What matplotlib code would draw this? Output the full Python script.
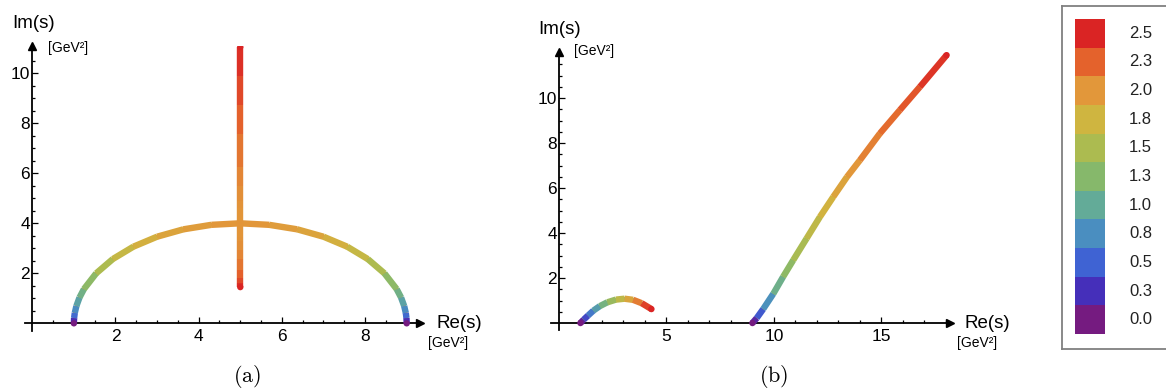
import matplotlib
matplotlib.use("Agg")
import matplotlib.pyplot as plt
from matplotlib.collections import LineCollection
from matplotlib.colors import LinearSegmentedColormap, Normalize

plt.rcParams['font.family'] = ['Liberation Sans', 'DejaVu Sans']
plt.rcParams['mathtext.fontset'] = 'cm'

# legend / colour scale (value -> colour)
legend_labels = ['0.0', '0.3', '0.5', '0.8', '1.0', '1.3', '1.5', '1.8', '2.0', '2.3', '2.5']
legend_colors = ['#751B80', '#452FBA', '#3F63D3', '#4A8EC0', '#63AB98', '#86B86B',
                 '#ACBB50', '#CFB540', '#E2973A', '#E4622C', '#DA2424']
p_min, p_max = 0.0, 2.5

# panel (a): arc from s=1 to s=9
arc_x = [1.000, 1.005, 1.022, 1.061, 1.136, 1.241, 1.536, 1.936, 2.429, 3.000, 3.632, 4.305, 5.000,
         5.695, 6.368, 7.000, 7.571, 8.064, 8.464, 8.759, 8.864, 8.939, 8.978, 8.995, 9.000]
arc_y = [0.000, 0.209, 0.418, 0.695, 1.035, 1.368, 2.000, 2.571, 3.064, 3.464, 3.759, 3.939, 4.000,
         3.939, 3.759, 3.464, 3.064, 2.571, 2.000, 1.368, 1.035, 0.695, 0.418, 0.209, 0.000]
arc_p = [0.000, 0.458, 0.647, 0.833, 1.018, 1.170, 1.414, 1.604, 1.750, 1.861, 1.939, 1.985, 2.000,
         1.985, 1.939, 1.861, 1.750, 1.604, 1.414, 1.170, 1.018, 0.833, 0.647, 0.458, 0.000]

# panel (a): vertical branch at Re(s)=5
vert_x = [5.0] * 17
vert_y = [1.448, 1.615, 1.828, 2.115, 2.553, 2.914, 3.274, 3.472, 4.000,
          4.608, 4.886, 5.491, 6.267, 7.565, 8.752, 9.905, 11.052]
vert_p = [2.50, 2.40, 2.30, 2.20, 2.10, 2.05, 2.02, 2.01, 2.00,
          2.01, 2.02, 2.05, 2.10, 2.20, 2.30, 2.40, 2.50]

# panel (b): small arc
b1_x = [1.00, 1.15, 1.35, 1.60, 1.90, 2.25, 2.65, 3.05, 3.45, 3.85, 4.30]
b1_y = [0.00, 0.15, 0.33, 0.55, 0.75, 0.92, 1.04, 1.08, 1.03, 0.88, 0.62]
b1_p = [0.00, 0.25, 0.50, 0.75, 1.00, 1.25, 1.50, 1.75, 2.00, 2.25, 2.50]

# panel (b): long branch
b2_x = [9.00, 9.20, 9.50, 9.97, 10.43, 10.90, 11.52, 12.14, 12.76, 13.40, 14.00, 14.93, 15.86, 16.79, 18.03]
b2_y = [0.00, 0.22, 0.62, 1.30, 2.06, 2.80, 3.76, 4.72, 5.61, 6.50, 7.24, 8.43, 9.47, 10.50, 11.91]
b2_p = [0.00, 0.30, 0.60, 0.95, 1.20, 1.40, 1.55, 1.70, 1.85, 1.95, 2.05, 2.15, 2.25, 2.35, 2.50]

cmap = LinearSegmentedColormap.from_list('traj', legend_colors)
norm = Normalize(p_min, p_max)
LW = 4.6


def draw_curve(ax, xs, ys, ps):
    segs = [[(xs[i], ys[i]), (xs[i + 1], ys[i + 1])] for i in range(len(xs) - 1)]
    cols = [cmap(norm(0.5 * (ps[i] + ps[i + 1]))) for i in range(len(xs) - 1)]
    # thin underlay fills the small gaps at the bends
    ax.plot(xs, ys, color=cols[len(cols) // 2], lw=LW * 0.6, solid_joinstyle='round', zorder=2)
    lc = LineCollection(segs, colors=cols, linewidths=LW, capstyle='butt', joinstyle='round', zorder=3)
    ax.add_collection(lc)
    # round ends
    ax.scatter([xs[0], xs[-1]], [ys[0], ys[-1]], s=LW ** 2, c=[ps[0], ps[-1]], cmap=cmap, norm=norm,
               edgecolors='none', zorder=4)


def setup_axes(ax, xlim, ylim, xmajor, xminor, ymajor, yminor):
    ax.set_xlim(xlim)
    ax.set_ylim(ylim)
    ax.patch.set_visible(False)
    for s in ['top', 'right']:
        ax.spines[s].set_visible(False)
    for s in ['left', 'bottom']:
        ax.spines[s].set_position(('data', 0))
        ax.spines[s].set_linewidth(1.3)
    ax.set_xticks(xmajor)
    ax.set_xticks(xminor, minor=True)
    ax.set_yticks(ymajor)
    ax.set_yticks(yminor, minor=True)
    ax.tick_params(which='both', direction='in', width=0.9, labelsize=12.5)
    ax.tick_params(which='major', length=4.5)
    ax.tick_params(which='minor', length=2.5)
    ax.tick_params(axis='x', pad=4)
    ax.tick_params(axis='y', pad=1.5)
    ax.plot(1, 0, '>k', ms=6, transform=ax.get_yaxis_transform(), clip_on=False)
    ax.plot(0, 1, '^k', ms=6, transform=ax.get_xaxis_transform(), clip_on=False)


W, H = 1166, 390
fig = plt.figure(figsize=(W / 100, H / 100), dpi=100)


def px_axes(x0, y0, x1, y1):
    return fig.add_axes([x0 / W, (H - y1) / H, (x1 - x0) / W, (y1 - y0) / H])


def px_text(x, y, s, **kw):
    fig.text(x / W, (H - y) / H, s, **kw)


# panel (a)
ax1 = px_axes(24.8, 45.8, 420.0, 330.8)
setup_axes(ax1, (-0.18, 9.32), (-0.3, 11.1),
           [2, 4, 6, 8], [i * 0.5 for i in range(1, 19)],
           [2, 4, 6, 8, 10], [i * 0.5 for i in range(1, 22)])
draw_curve(ax1, arc_x, arc_y, arc_p)
draw_curve(ax1, vert_x, vert_y, vert_p)

# panel (b)
ax2 = px_axes(551.0, 52.0, 950.0, 329.75)
setup_axes(ax2, (-0.37, 18.19), (-0.3, 12.05),
           [5, 10, 15], list(range(1, 19)),
           [2, 4, 6, 8, 10], [i * 0.5 for i in range(1, 24)])
draw_curve(ax2, b1_x, b1_y, b1_p)
draw_curve(ax2, b2_x, b2_y, b2_p)

# axis labels
px_text(12, 24, 'Im(s)', fontsize=13.5, va='center', ha='left')
px_text(48, 48, '[GeV²]', fontsize=10, va='center', ha='left')
px_text(437, 323, 'Re(s)', fontsize=13.5, va='center', ha='left')
px_text(428, 343, '[GeV²]', fontsize=10, va='center', ha='left')
px_text(538, 29, 'Im(s)', fontsize=13.5, va='center', ha='left')
px_text(574, 51, '[GeV²]', fontsize=10, va='center', ha='left')
px_text(965, 323, 'Re(s)', fontsize=13.5, va='center', ha='left')
px_text(957, 343, '[GeV²]', fontsize=10, va='center', ha='left')

# captions
px_text(247, 376, r'$\mathrm{(a)}$', fontsize=16, ha='center', va='center')
px_text(774, 377, r'$\mathrm{(b)}$', fontsize=16, ha='center', va='center')

# legend box
axl = px_axes(1062, 6, 1180, 349)
n = len(legend_labels)
row_px = (334 - 19) / n
axl.set_xlim(0, 1180 - 1062)
axl.set_ylim(-15 / row_px, n + 13 / row_px)
axl.set_xticks([])
axl.set_yticks([])
for s in axl.spines.values():
    s.set_edgecolor('#808080')
    s.set_linewidth(1.3)
axl.bar([28] * n, [1] * n, bottom=list(range(n)), width=30, color=legend_colors, edgecolor='none')
for i, lab in enumerate(legend_labels):
    axl.text(67, i + 0.5, lab, fontsize=12, ha='left', va='center', color='#222222')

fig.savefig('out.png', dpi=100)
